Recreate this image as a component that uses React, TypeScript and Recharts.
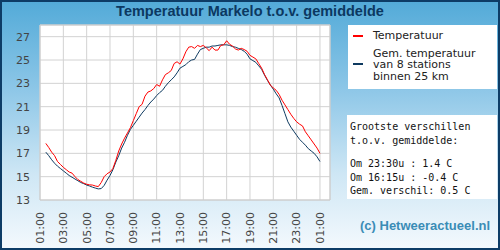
import React from "react";
import { LineChart, Line, XAxis, YAxis, CartesianGrid, ReferenceArea } from "recharts";

// Quarter-hour readings, first sample at 01:30
const START_HOUR = 1.5;
const STEP_HOURS = 0.25;

// Local temperature (°C)
const temperatuur = [
  17.85, 17.5, 17.1, 16.8, 16.3, 16.05, 15.8, 15.6, 15.4, 15.3, 15.0, 14.75,
  14.6, 14.45, 14.35, 14.3, 14.28, 14.2, 14.15, 14.5, 15.0, 15.25, 15.4, 15.7,
  16.4, 17.2, 17.8, 18.3, 18.75, 19.2, 19.8, 20.4, 21.0, 21.2, 21.9, 22.25,
  22.35, 22.55, 22.9, 22.75, 23.3, 23.75, 23.9, 24.1, 24.7, 24.85, 24.65, 25.1,
  25.7, 26.1, 26.15, 26.0, 26.25, 26.15, 26.25, 26.05, 25.8, 26.1, 25.85, 25.85,
  26.25, 26.3, 26.65, 26.35, 26.2, 25.95, 25.85, 26.0, 25.9, 25.75, 25.4, 25.25,
  25.1, 24.7, 24.3, 23.75, 23.3, 22.85, 22.6, 22.4, 22.05, 21.55, 21.15, 20.75,
  20.35, 20.0, 19.7, 19.5, 19.35, 18.85, 18.5, 18.15, 17.8, 17.45, 17.0,
];

// Mean of 8 stations within 25 km (°C)
const gemiddelde = [
  17.1, 16.8, 16.45, 16.15, 15.9, 15.7, 15.5, 15.3, 15.1, 14.95, 14.8, 14.65,
  14.5, 14.4, 14.28, 14.2, 14.1, 14.02, 13.95, 13.98, 14.25, 14.7, 15.1, 15.6,
  16.25, 16.8, 17.45, 17.95, 18.55, 19.05, 19.4, 19.75, 20.1, 20.45, 20.75, 21.1,
  21.4, 21.65, 21.95, 22.2, 22.4, 22.75, 23.05, 23.3, 23.55, 23.9, 24.3, 24.45,
  24.6, 24.85, 25.0, 25.05, 25.5, 25.9, 26.0, 26.1, 26.1, 26.2, 26.2, 26.25,
  26.3, 26.3, 26.3, 26.25, 26.15, 26.1, 26.0, 25.9, 25.75, 25.5, 25.1, 24.95,
  24.8, 24.5, 24.2, 23.7, 23.25, 22.85, 22.5, 22.1, 21.75, 21.1, 20.4, 19.7,
  19.25, 18.9, 18.55, 18.2, 17.95, 17.7, 17.4, 17.2, 17.0, 16.7, 16.3,
];

const xTicks = [1, 3, 5, 7, 9, 11, 13, 15, 17, 19, 21, 23, 25];
const yTicks = [13, 15, 17, 19, 21, 23, 25, 27];
const X_DOMAIN: [number, number] = [1, 25.86];
const Y_DOMAIN: [number, number] = [13, 28];

const legendGem = ["Gem. temperatuur", "van 8 stations", "binnen 25 km"];

const infoLines = [
  "Grootste verschillen",
  "t.o.v. gemiddelde:",
  "",
  "Om 23:30u : 1.4 C",
  "Om 16:15u : -0.4 C",
  "Gem. verschil: 0.5 C",
];

const data = temperatuur.map((t, i) => ({
  uur: START_HOUR + i * STEP_HOURS,
  temp: t,
  gem: gemiddelde[i],
}));

const fmtHour = (v: number) => {
  const h = Math.round(v) % 24;
  return `${h < 10 ? "0" : ""}${h}:00`;
};

const XTick = (props: any) => {
  const { x, y, payload } = props;
  const ty = y + 4;
  return (
    <text
      x={x}
      y={ty}
      transform={`rotate(-90 ${x} ${ty})`}
      textAnchor="end"
      dy="0.35em"
      fill="#444"
      fontSize={11}
      fontFamily="DejaVu Sans"
    >
      {fmtHour(payload.value)}
    </text>
  );
};

export default function App() {
  return (
    <div
      style={{
        position: "fixed",
        left: 0,
        top: 0,
        width: 500,
        height: 250,
        background: "linear-gradient(to bottom, #52aad8 0%, #8cc6e7 35%, #cfe7f5 70%, #f4f9fd 100%)",
        overflow: "hidden",
      }}
    >
      <div
        style={{
          position: "absolute",
          left: 0,
          top: 0,
          width: 500,
          textAlign: "center",
          fontFamily: "Liberation Sans, Arial, sans-serif",
          fontWeight: "bold",
          fontSize: 14.5,
          lineHeight: "22px",
          color: "#0b3861",
        }}
      >
        Temperatuur Markelo t.o.v. gemiddelde
      </div>

      <div style={{ position: "absolute", left: 0, top: 0 }}>
        <LineChart
          width={500}
          height={250}
          data={data}
          margin={{ top: 25, right: 170, bottom: 0, left: 0 }}
        >
          <CartesianGrid stroke="#d2d2d2" fill="#ffffff" />
          <XAxis
            dataKey="uur"
            type="number"
            domain={X_DOMAIN}
            ticks={xTicks}
            allowDataOverflow
            axisLine={false}
            tickLine={false}
            height={50}
            tick={<XTick />}
            interval={0}
          />
          <YAxis
            type="number"
            domain={Y_DOMAIN}
            ticks={yTicks}
            allowDataOverflow
            axisLine={false}
            tickLine={false}
            width={40}
            tickMargin={4}
            interval={0}
            tick={{ fill: "#444", fontSize: 11, fontFamily: "DejaVu Sans" }}
          />
          <ReferenceArea
            x1={X_DOMAIN[0]}
            x2={X_DOMAIN[1]}
            y1={Y_DOMAIN[0]}
            y2={Y_DOMAIN[1]}
            fill="none"
            stroke="#cccccc"
            strokeWidth={1}
          />
          <Line
            type="linear"
            dataKey="gem"
            stroke="#0e3a60"
            strokeWidth={1}
            dot={false}
            isAnimationActive={false}
          />
          <Line
            type="linear"
            dataKey="temp"
            stroke="#ff0000"
            strokeWidth={1}
            dot={false}
            isAnimationActive={false}
          />
        </LineChart>
      </div>

      {/* legend */}
      <div
        style={{
          position: "absolute",
          left: 348,
          top: 25,
          width: 149,
          height: 64,
          background: "#fff",
          fontFamily: "DejaVu Sans",
          fontSize: 11,
          color: "#222",
        }}
      >
        <div style={{ position: "absolute", left: 5, top: 10, width: 10, height: 2, background: "#ff0000" }} />
        <div style={{ position: "absolute", left: 25, top: 4, lineHeight: "13px" }}>Temperatuur</div>
        <div style={{ position: "absolute", left: 5, top: 38, width: 10, height: 2, background: "#0e3a60" }} />
        {legendGem.map((l, i) => (
          <div
            key={l}
            style={{
              position: "absolute",
              left: 25,
              top: 22.5 + i * 11.5,
              height: 11.5,
              lineHeight: "11.5px",
              whiteSpace: "nowrap",
            }}
          >
            {l}
          </div>
        ))}
      </div>

      {/* largest differences */}
      <div
        style={{
          position: "absolute",
          left: 347,
          top: 115,
          width: 150,
          height: 84,
          background: "#fff",
          fontFamily: "DejaVu Sans Mono",
          fontSize: 10,
          color: "#111",
          paddingTop: 5,
          paddingLeft: 3,
          boxSizing: "border-box",
          whiteSpace: "pre",
        }}
      >
        {infoLines.map((l, i) => (
          <div key={i} style={{ height: l === "" ? 10 : 13.5, lineHeight: "13.5px" }}>
            {l}
          </div>
        ))}
      </div>

      <div
        style={{
          position: "absolute",
          left: 360,
          top: 218,
          fontFamily: "Liberation Sans, Arial, sans-serif",
          fontWeight: "bold",
          fontSize: 13,
          color: "#3a8cb6",
          whiteSpace: "nowrap",
        }}
      >
        (c) Hetweeractueel.nl
      </div>

      <div
        style={{
          position: "absolute",
          left: 0,
          top: 0,
          width: 500,
          height: 250,
          boxSizing: "border-box",
          border: "2px solid #0d3c66",
          pointerEvents: "none",
        }}
      />
    </div>
  );
}
